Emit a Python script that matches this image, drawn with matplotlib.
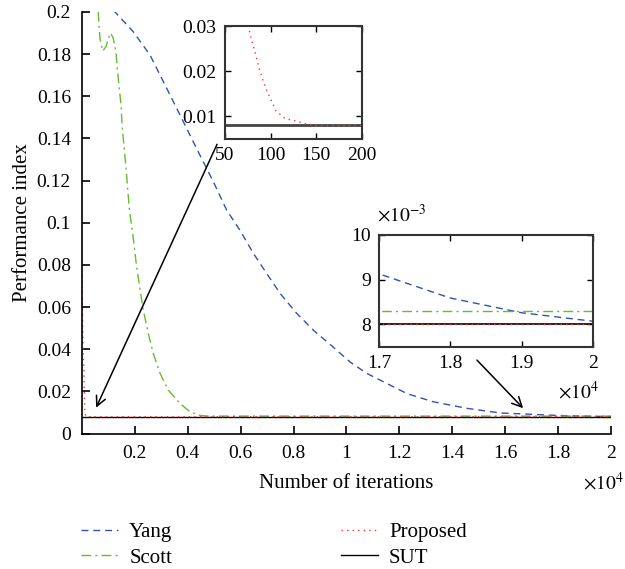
import matplotlib
matplotlib.use("Agg")
import matplotlib.pyplot as plt
from matplotlib.ticker import FuncFormatter, FixedLocator

plt.rcParams['font.family'] = ['Liberation Serif', 'DejaVu Serif']
plt.rcParams['mathtext.fontset'] = 'stix'

# ---- data ----
yang_x = [1000, 1248, 1940, 2571, 3202, 3830, 4461, 4965, 5470, 5970, 6480, 6980, 7490, 8120,
          8750, 9500, 10130, 10760, 11520, 12280, 12650, 13280, 14540, 15800, 17000,
          18000, 19000, 20000]
yang_y = [0.207, 0.200, 0.1906, 0.1796, 0.1638, 0.148, 0.132, 0.1195, 0.106, 0.0965, 0.0855,
          0.076, 0.0665, 0.057, 0.049, 0.041, 0.034, 0.0286, 0.0238, 0.019, 0.0175, 0.0151,
          0.012, 0.0098, 0.00913, 0.00859, 0.00826, 0.00807]

scott_x = [616, 643, 680, 783, 907, 994, 1085, 1183, 1285, 1335, 1410, 1474, 1524, 1599,
           1664, 1728, 1788, 1815, 1917, 2068, 2219, 2318, 2507, 2696, 2949, 3263, 3705,
           4083, 4461, 4800, 20000]
scott_y = [0.200, 0.1938, 0.1875, 0.1815, 0.1835, 0.1875, 0.190, 0.1875, 0.181, 0.173, 0.164,
           0.156, 0.145, 0.135, 0.126, 0.116, 0.107, 0.104, 0.095, 0.079, 0.0665, 0.0586,
           0.0475, 0.038, 0.0286, 0.0206, 0.0143, 0.0103, 0.0086, 0.0083, 0.0083]

prop_x = [1, 10, 20, 30, 40, 50, 60, 70, 75.5, 79, 83, 86.5, 90.5, 95.5, 101, 106, 116,
          128, 141, 148, 160, 200, 1000, 20000]
prop_y = [0.075, 0.066, 0.057, 0.049, 0.042, 0.037, 0.034, 0.031, 0.030, 0.027, 0.0242,
          0.0213, 0.0186, 0.0159, 0.0134, 0.0112, 0.0095, 0.0090, 0.0082, 0.0080, 0.0080,
          0.0080, 0.0080, 0.0080]

sut_x = [1, 20000]
sut_y = [0.008, 0.008]

main_xticks = [2000, 4000, 6000, 8000, 10000, 12000, 14000, 16000, 18000, 20000]
main_yticks = [0, 0.02, 0.04, 0.06, 0.08, 0.1, 0.12, 0.14, 0.16, 0.18, 0.2]
in1_xticks = [50, 100, 150, 200]
in1_yticks = [0.01, 0.02, 0.03]
in2_xticks = [17000, 18000, 19000, 20000]
in2_yticks = [0.008, 0.009, 0.010]

C_YANG = '#3352b0'
C_SCOTT = '#66bb33'
C_PROP = '#ff3333'
FS = 14
FS_L = 15

fig = plt.figure(figsize=(6.25, 5.69), dpi=100)

def style_lines(ax, lw=1.0, sut_lw=1.0, sut_color='black'):
    l1, = ax.plot(yang_x, yang_y, color=C_YANG, ls=(0, (5, 3.5)), lw=lw, label='Yang')
    l2, = ax.plot(scott_x, scott_y, color=C_SCOTT, ls=(0, (7, 3, 1.5, 3)), lw=lw, label='Scott')
    l4, = ax.plot(sut_x, sut_y, color=sut_color, ls='-', lw=sut_lw, label='SUT')
    l3, = ax.plot(prop_x, prop_y, color=C_PROP, ls=(0, (1, 3)), lw=lw, label='Proposed')
    return l1, l2, l3, l4

# ---- main axes ----
ax = fig.add_axes([0.1312, 0.238, 0.8464, 0.741])
h = style_lines(ax)
ax.set_xlim(1, 20000)
ax.set_ylim(0, 0.2)
ax.xaxis.set_major_locator(FixedLocator(main_xticks))
ax.yaxis.set_major_locator(FixedLocator(main_yticks))
ax.xaxis.set_major_formatter(FuncFormatter(lambda v, p: f'{v/1e4:g}'))
ax.yaxis.set_major_formatter(FuncFormatter(lambda v, p: f'{v:g}'))
for s in ('top', 'right'):
    ax.spines[s].set_visible(False)
for s in ('left', 'bottom'):
    ax.spines[s].set_linewidth(1.2)
ax.tick_params(direction='in', length=6, width=1.2, labelsize=FS, pad=8)
ax.set_xlabel('Number of iterations', fontsize=FS_L, labelpad=9)
ax.set_ylabel('Performance index', fontsize=FS_L, labelpad=3)
fig.text(0.998, 0.151, r'$\times10^4$', ha='right', va='center', fontsize=FS)

# arrows
ax.annotate('', xy=(491, 0.0111), xytext=(5150, 0.1384),
            arrowprops=dict(arrowstyle='->,head_length=0.7,head_width=0.35', color='black', lw=1.1))
ax.annotate('', xy=(16750, 0.0111), xytext=(14860, 0.0358),
            arrowprops=dict(arrowstyle='->,head_length=0.7,head_width=0.35', color='black', lw=1.1))

# legend
fig.legend([h[0], h[1], h[2], h[3]], ['Yang', 'Scott', 'Proposed', 'SUT'],
           ncol=2, loc='upper left', bbox_to_anchor=(0.130, 0.082), frameon=False,
           fontsize=FS_L, handlelength=1.75, handletextpad=0.55, columnspacing=8.1,
           labelspacing=0.3, borderpad=0, borderaxespad=0,
           bbox_transform=fig.transFigure)

# ---- inset 1 ----
a1 = fig.add_axes([0.360, 0.7557, 0.219, 0.1986])
style_lines(a1, lw=1.0, sut_lw=2.0, sut_color='#444444')
a1.set_xlim(50, 200)
a1.set_ylim(0.005, 0.03)
a1.xaxis.set_major_locator(FixedLocator(in1_xticks))
a1.yaxis.set_major_locator(FixedLocator(in1_yticks))
a1.yaxis.set_major_formatter(FuncFormatter(lambda v, p: f'{v:g}'))
a1.xaxis.set_major_formatter(FuncFormatter(lambda v, p: f'{v:g}'))
for s in a1.spines.values():
    s.set_linewidth(1.5)
    s.set_color('#333333')
a1.tick_params(direction='in', length=4, width=1.0, labelsize=FS, top=True, right=True, pad=6)

# ---- inset 2 ----
a2 = fig.add_axes([0.6064, 0.3907, 0.342, 0.1963])
style_lines(a2, lw=1.0, sut_lw=1.2)
a2.set_xlim(17000, 20000)
a2.set_ylim(0.0075, 0.010)
a2.xaxis.set_major_locator(FixedLocator(in2_xticks))
a2.yaxis.set_major_locator(FixedLocator(in2_yticks))
a2.xaxis.set_major_formatter(FuncFormatter(lambda v, p: f'{v/1e4:g}'))
a2.yaxis.set_major_formatter(FuncFormatter(lambda v, p: f'{v*1e3:g}'))
for s in a2.spines.values():
    s.set_linewidth(1.5)
    s.set_color('#333333')
a2.tick_params(direction='in', length=4, width=1.0, labelsize=FS, top=True, right=True, pad=6)
a2.text(-0.01, 1.08, r'$\times10^{-3}$', transform=a2.transAxes, fontsize=FS, ha='left', va='bottom')
a2.text(1.03, -0.40, r'$\times10^4$', transform=a2.transAxes, fontsize=FS, ha='right', va='center')

fig.savefig('out.png', dpi=100)
